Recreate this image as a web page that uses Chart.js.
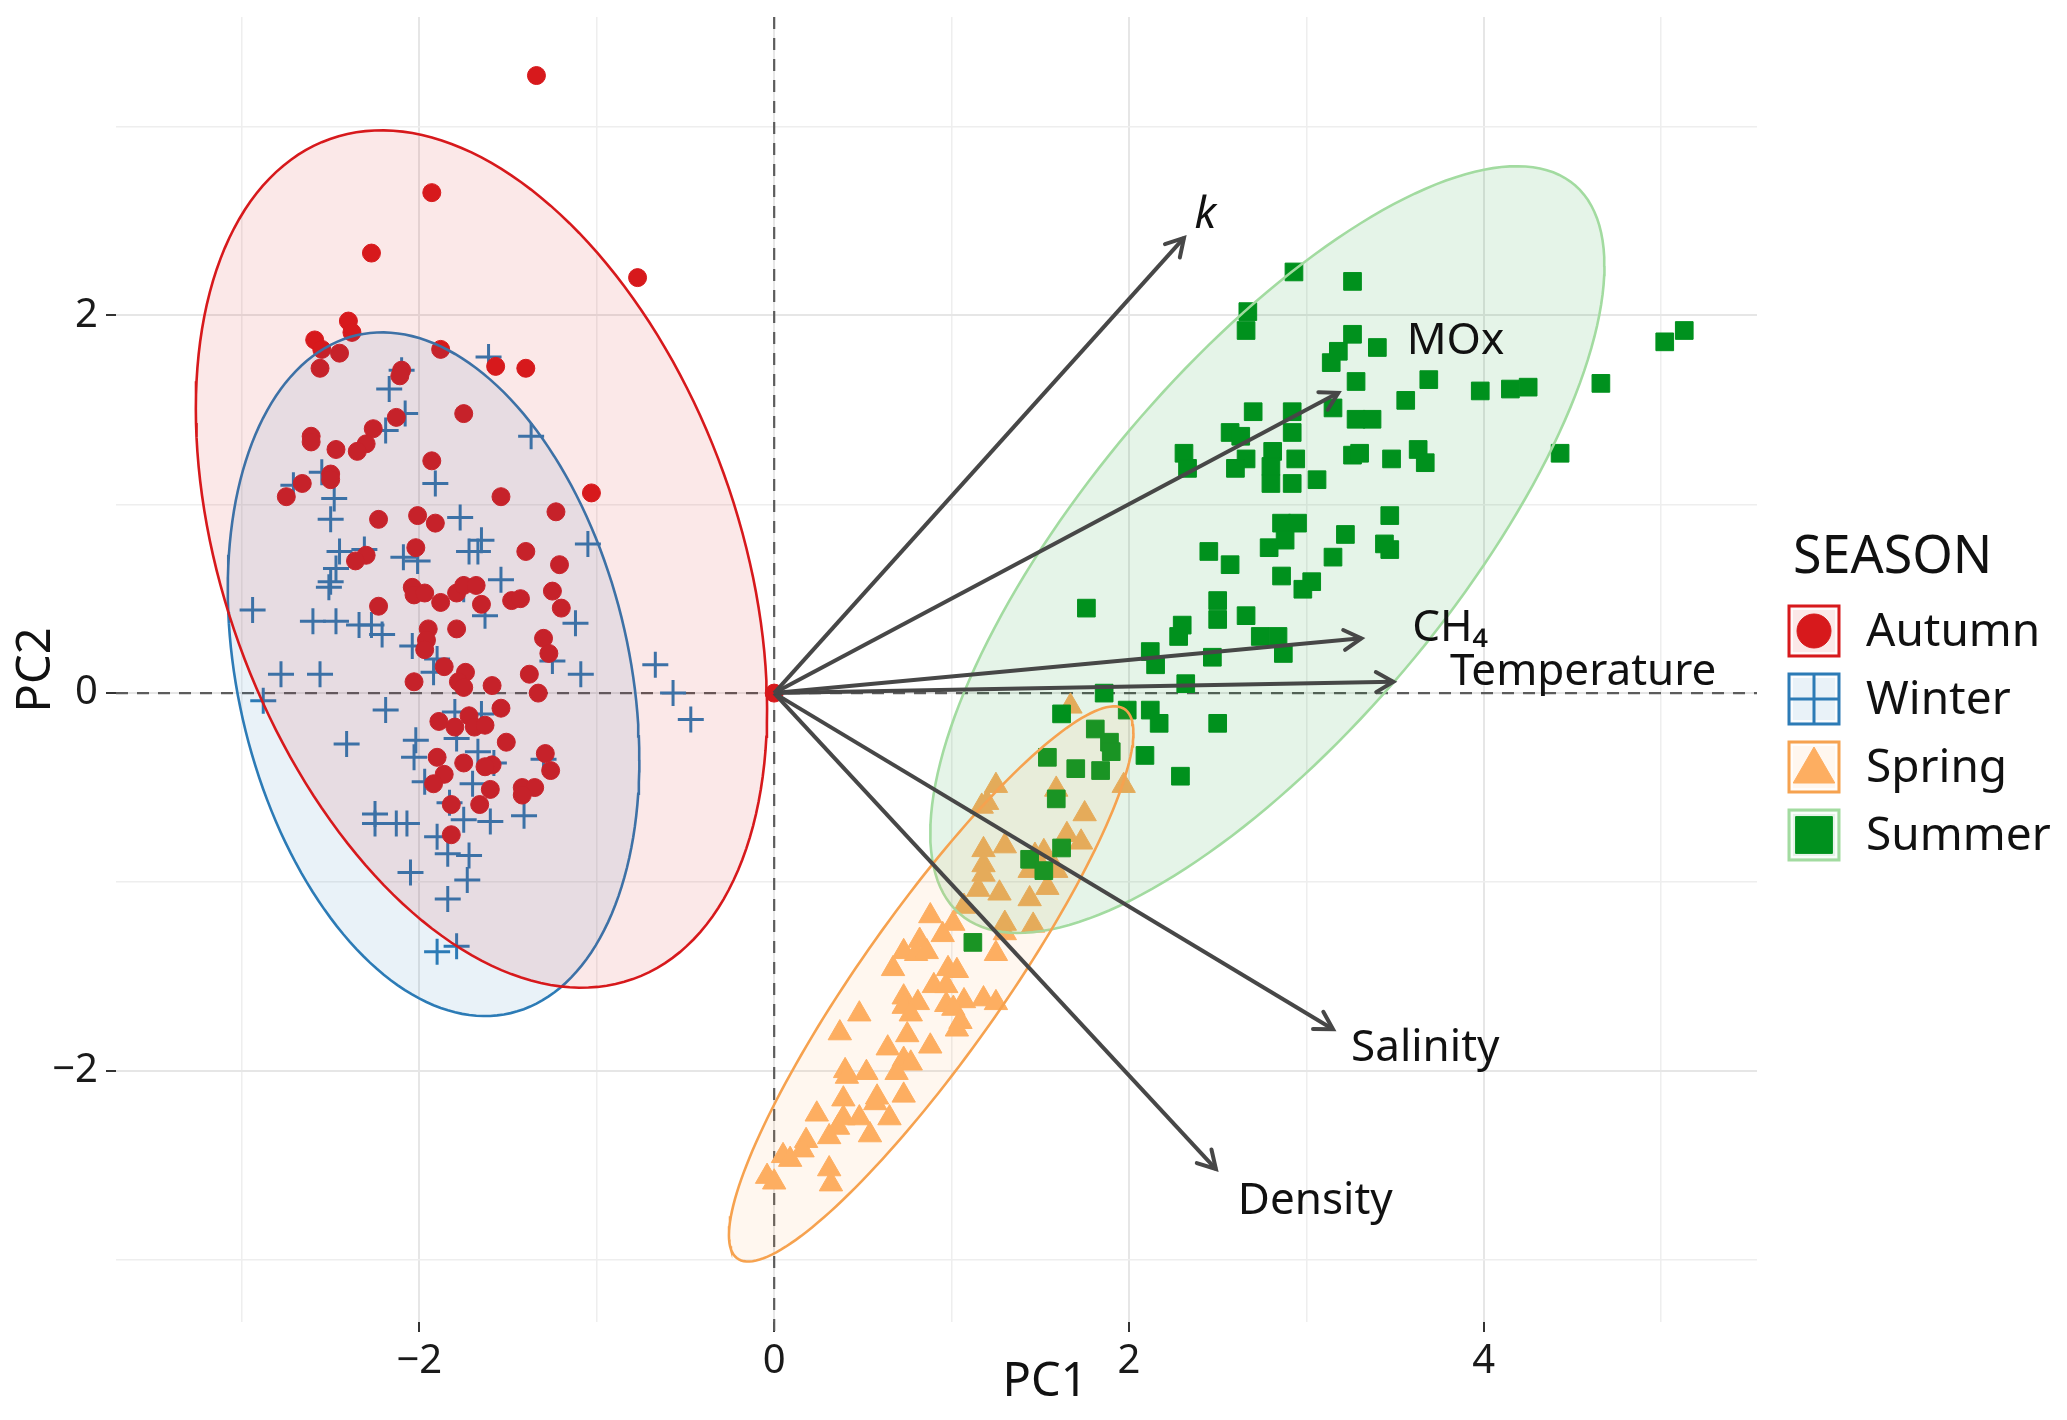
<!DOCTYPE html>
<html>
<head>
<meta charset="utf-8">
<script src="https://cdn.jsdelivr.net/npm/chart.js@4.4.1/dist/chart.umd.min.js"></script>
<style>
  html, body { margin: 0; padding: 0; background: #fff; }
  #wrap { width: 2067px; height: 1420px; position: relative; }
</style>
</head>
<body>
<div id="wrap"><canvas id="pca"></canvas></div>
<script>
// ---- data (PC1, PC2) ----
const seasons = ['Autumn', 'Winter', 'Spring', 'Summer'];

const autumnPts = [
  [-1.34,3.27],[-1.93,2.65],[-2.27,2.33],[-0.77,2.20],
  [-2.40,1.97],[-2.38,1.91],[-2.59,1.87],[-2.55,1.82],[-2.45,1.80],[-2.56,1.72],
  [-1.88,1.82],[-1.57,1.73],[-1.40,1.72],[-2.10,1.71],[-2.11,1.68],
  [-1.75,1.48],[-2.13,1.46],[-2.26,1.40],[-2.61,1.36],[-2.61,1.33],
  [-2.47,1.29],[-2.30,1.32],[-2.35,1.28],[-2.50,1.16],[-2.50,1.13],
  [-2.66,1.11],[-2.75,1.04],[-1.93,1.23],[-1.54,1.04],[-1.03,1.06],
  [-1.23,0.96],[-2.23,0.92],[-2.01,0.94],[-1.91,0.90],[-2.02,0.77],
  [-2.30,0.73],[-2.36,0.70],[-1.40,0.75],[-1.21,0.68],[-2.04,0.56],
  [-2.03,0.52],[-1.97,0.53],[-1.88,0.48],[-1.79,0.53],[-1.75,0.57],
  [-1.68,0.57],[-1.65,0.47],[-1.48,0.49],[-1.43,0.50],[-1.25,0.54],
  [-1.20,0.45],[-2.23,0.46],[-1.95,0.34],[-1.96,0.28],[-1.97,0.23],
  [-1.79,0.34],[-1.30,0.29],[-1.27,0.21],[-1.86,0.14],[-1.74,0.11],
  [-1.78,0.06],[-2.03,0.06],[-1.59,0.04],[-1.38,0.10],[-1.33,0.00],
  [-1.75,0.03],
  [-1.54,-0.08],[-1.89,-0.15],[-1.80,-0.18],[-1.72,-0.12],[-1.69,-0.18],
  [-1.63,-0.17],[-1.51,-0.26],[-1.29,-0.32],[-1.90,-0.34],[-1.75,-0.37],
  [-1.59,-0.38],[-1.63,-0.39],[-1.26,-0.41],[-1.86,-0.43],[-1.92,-0.48],
  [-1.60,-0.51],[-1.42,-0.50],[-1.35,-0.50],[-1.42,-0.54],[-1.82,-0.59],
  [-1.66,-0.59],[-1.82,-0.75]
];

const winterPts = [
  [-1.61,1.78],[-2.10,1.71],[-2.17,1.61],[-2.08,1.48],[-2.19,1.39],
  [-1.37,1.36],[-2.55,1.17],[-2.71,1.10],[-1.91,1.11],[-2.48,1.03],
  [-2.50,0.92],[-1.77,0.93],[-1.05,0.79],[-1.65,0.81],[-1.72,0.75],
  [-1.67,0.75],[-2.45,0.75],[-2.31,0.76],[-2.09,0.72],[-2.01,0.70],
  [-2.47,0.66],[-2.50,0.59],[-2.51,0.56],[-1.54,0.60],[-1.75,0.55],
  [-2.94,0.44],[-2.60,0.38],[-2.47,0.38],[-2.34,0.36],[-2.21,0.31],
  [-2.27,0.36],[-1.63,0.41],[-1.12,0.37],[-2.04,0.25],[-1.90,0.18],
  [-1.92,0.11],[-1.25,0.17],[-0.67,0.15],[-1.09,0.10],[-2.78,0.10],
  [-2.56,0.10],
  [-0.57,0.00],[-2.88,-0.04],[-0.47,-0.14],[-2.19,-0.09],[-2.41,-0.27],
  [-1.80,-0.10],[-1.65,-0.11],[-2.02,-0.25],[-2.03,-0.34],[-1.79,-0.24],
  [-1.67,-0.31],[-1.58,-0.37],[-1.30,-0.35],[-1.97,-0.47],[-1.70,-0.48],
  [-1.83,-0.58],[-2.25,-0.64],[-2.25,-0.69],[-2.13,-0.69],[-2.07,-0.69],
  [-1.75,-0.67],[-1.60,-0.68],[-1.41,-0.65],[-1.90,-0.76],[-1.84,-0.85],
  [-1.72,-0.86],[-2.05,-0.95],[-1.73,-0.99],[-1.84,-1.09],[-1.90,-1.37],
  [-1.79,-1.34]
];

const springPts = [
  [1.67,-0.07],[1.25,-0.49],[1.20,-0.58],[1.17,-0.60],[1.97,-0.49],
  [1.59,-0.51],[1.75,-0.64],[1.65,-0.75],[1.73,-0.79],[1.18,-0.83],
  [1.30,-0.81],[1.52,-0.84],[1.47,-0.86],[1.18,-0.91],[1.18,-0.96],
  [1.44,-0.94],[1.59,-0.94],[1.15,-1.04],[1.27,-1.06],[1.44,-1.09],
  [1.54,-1.03],[1.07,-1.13],[0.88,-1.18],[1.01,-1.22],[0.95,-1.28],
  [1.30,-1.22],[1.46,-1.23],[1.30,-1.27],[0.82,-1.31],[0.73,-1.37],
  [1.25,-1.38],[0.80,-1.38],[0.86,-1.37],
  [0.67,-1.46],[0.98,-1.46],[1.03,-1.47],[0.90,-1.55],[0.97,-1.55],
  [0.73,-1.61],[0.81,-1.64],[0.73,-1.66],[0.97,-1.65],[1.07,-1.63],
  [1.18,-1.62],[1.25,-1.64],[1.01,-1.67],[0.77,-1.70],[0.48,-1.70],
  [0.37,-1.80],[1.05,-1.74],[1.03,-1.78],[0.75,-1.81],[0.64,-1.88],
  [0.88,-1.87],[0.73,-1.94],[0.77,-1.96],[0.69,-2.01],[0.40,-2.00],
  [0.41,-2.03],[0.52,-2.01],[0.58,-2.14],[0.73,-2.13],[0.39,-2.15],
  [0.57,-2.17],[0.24,-2.23],[0.39,-2.25],[0.48,-2.25],[0.65,-2.25],
  [0.36,-2.30],[0.31,-2.35],[0.54,-2.34],[0.18,-2.37],[0.16,-2.42],
  [0.05,-2.45],[0.09,-2.47],[0.31,-2.52],[0.32,-2.60],[-0.04,-2.56],
  [0.00,-2.59]
];

const summerPts = [
  [2.93,2.23],[3.26,2.18],[2.67,2.02],[2.66,1.92],[3.26,1.90],
  [3.18,1.81],[3.14,1.75],[3.40,1.83],[3.28,1.65],[3.69,1.66],
  [3.15,1.51],[3.56,1.55],[3.98,1.60],[4.15,1.61],[4.25,1.62],
  [4.66,1.64],[5.02,1.86],[5.13,1.92],[4.43,1.27],[2.70,1.49],
  [2.92,1.49],[2.92,1.38],[2.57,1.38],[2.63,1.36],[3.28,1.45],
  [3.37,1.45],[2.31,1.27],[2.33,1.19],[2.81,1.28],[2.66,1.24],
  [2.60,1.19],[2.94,1.24],[2.80,1.20],[2.80,1.11],[2.92,1.11],
  [3.06,1.13],[3.26,1.26],[3.30,1.27],[3.48,1.24],[3.63,1.29],
  [3.67,1.22],[3.47,0.94],[3.47,0.76],[3.44,0.79],[2.86,0.90],
  [2.95,0.90],[2.88,0.81],[2.79,0.77],[3.22,0.84],[2.45,0.75],
  [2.57,0.68],[3.15,0.72],[2.86,0.62],[3.03,0.59],[2.98,0.55],
  [1.76,0.45],[2.50,0.49],[2.50,0.39],[2.66,0.41],[2.30,0.36],
  [2.28,0.30],[2.74,0.30],[2.84,0.30],[2.12,0.22],[2.87,0.21],
  [2.47,0.19],
  [2.15,0.15],[2.32,0.05],[1.86,0.00],[1.62,-0.11],[1.99,-0.09],
  [2.12,-0.09],[2.17,-0.16],[2.50,-0.16],[1.81,-0.19],[1.89,-0.26],
  [1.90,-0.31],[1.54,-0.34],[1.70,-0.40],[1.84,-0.41],[2.09,-0.33],
  [2.29,-0.44],[1.59,-0.56],[1.62,-0.82],[1.44,-0.88],[1.52,-0.94],
  [1.12,-1.32]
];

// confidence ellipses: centre, half extent along PC1 / PC2, correlation
const ellCx = [-1.65, -1.92, 0.885, 2.78];
const ellCy = [0.71, 0.10, -1.54, 0.76];
const ellSx = [1.61, 1.16, 1.14, 1.90];
const ellSy = [2.27, 1.81, 1.47, 2.03];
const ellR  = [-0.35, -0.25, 0.905, 0.74];

// variable loadings (arrow tips) and their label anchors
const loadingNames = ['k', 'MOx', 'CH\u2084', 'Temperature', 'Salinity', 'Density'];
const loadingX = [2.31, 3.18, 3.31, 3.49, 3.15, 2.49];
const loadingY = [2.41, 1.59, 0.29, 0.06, -1.78, -2.52];
const labelX = [2.43, 3.84, 3.81, 4.56, 3.67, 3.05];
const labelY = [2.53, 1.86, 0.34, 0.11, -1.88, -2.69];

const xMin = -3.71, xMax = 5.54;
const yMin = -3.33, yMax = 3.58;

// ---- styling ----
const FONT = "'Noto Sans', 'Open Sans', sans-serif";
const pointColor = ['#d7191c', '#2c7bb6', '#fdae61', '#00911e'];
const ellipseLine = ['#d7191c', '#2c7bb6', '#f6a24f', '#a2dba0'];
const ellipseFill = ['rgba(215,25,28,0.1)', 'rgba(44,123,182,0.1)', 'rgba(253,174,97,0.1)', 'rgba(0,145,30,0.1)'];
const markerStyle = ['circle', 'cross', 'triangle', 'rect'];
const markerSize = [9, 13, 13.5, 12.5];
const layerOrder = [5, 6, 4, 3];   // lower = drawn on top
const arrowColor = '#474747';

const toXY = pts => pts.map(([x, y]) => ({ x, y }));

function ellipseOutline(i) {
  const out = [];
  const k = Math.sqrt(1 - ellR[i] * ellR[i]);
  for (let s = 0; s <= 180; s++) {
    const t = s / 180 * 2 * Math.PI;
    out.push({
      x: ellCx[i] + ellSx[i] * Math.cos(t),
      y: ellCy[i] + ellSy[i] * (ellR[i] * Math.cos(t) + k * Math.sin(t))
    });
  }
  return out;
}

const pointSets = [autumnPts, winterPts, springPts, summerPts];
const datasets = [];

seasons.forEach((name, i) => {
  datasets.push({
    label: name,
    data: toXY(pointSets[i]),
    pointStyle: markerStyle[i],
    pointRadius: markerSize[i],
    pointBackgroundColor: pointColor[i],
    pointBorderColor: pointColor[i],
    pointBorderWidth: i === 1 ? 3 : 1,
    showLine: false,
    order: layerOrder[i]
  });
});

seasons.forEach((name, i) => {
  datasets.push({
    label: name + ' ellipse',
    data: ellipseOutline(i),
    showLine: true,
    fill: 'shape',
    tension: 0,
    borderColor: ellipseLine[i],
    backgroundColor: ellipseFill[i],
    borderWidth: 2.6,
    pointRadius: 0,
    order: 2
  });
});

datasets.push({
  label: 'origin',
  data: [{ x: 0, y: 0 }],
  pointRadius: 9,
  pointBackgroundColor: pointColor[0],
  pointBorderColor: pointColor[0],
  order: 1
});

loadingNames.forEach((name, i) => {
  datasets.push({
    label: name,
    data: [{ x: 0, y: 0 }, { x: loadingX[i], y: loadingY[i] }],
    showLine: true,
    borderColor: arrowColor,
    borderWidth: 4,
    pointRadius: 0,
    order: 0
  });
});

const isEven = v => Math.abs(Math.round(v) % 2) === 0;
const tickText = v => !isEven(v) ? '' : (v < 0 ? '\u2212' + Math.abs(v) : String(v));

const gridOpts = {
  color: c => (c.tick && isEven(c.tick.value)) ? '#e6e6e6' : '#eeeeee',
  lineWidth: c => (c.tick && isEven(c.tick.value)) ? 2 : 1.5,
  tickLength: 10,
  tickWidth: 2,
  tickColor: c => (c.tick && isEven(c.tick.value)) ? '#333333' : 'rgba(0,0,0,0)'
};

const overlay = {
  id: 'overlay',
  beforeDatasetsDraw(chart) {
    const { ctx, chartArea: a, scales: { x, y } } = chart;
    const x0 = x.getPixelForValue(0), y0 = y.getPixelForValue(0);
    ctx.save();
    ctx.strokeStyle = '#5c5c5c';
    ctx.lineWidth = 2.2;
    ctx.setLineDash([12, 9]);
    ctx.beginPath();
    ctx.moveTo(x0, a.top); ctx.lineTo(x0, a.bottom + 10);
    ctx.moveTo(a.left, y0); ctx.lineTo(a.right, y0);
    ctx.stroke();
    ctx.restore();
  },
  afterDatasetsDraw(chart) {
    const { ctx, scales: { x, y } } = chart;
    const ox = x.getPixelForValue(0), oy = y.getPixelForValue(0);
    ctx.save();
    ctx.strokeStyle = arrowColor;
    ctx.lineWidth = 4;
    ctx.lineCap = 'round';
    loadingNames.forEach((name, i) => {
      const tx = x.getPixelForValue(loadingX[i]), ty = y.getPixelForValue(loadingY[i]);
      const ang = Math.atan2(ty - oy, tx - ox);
      const L = 20;
      ctx.beginPath();
      ctx.moveTo(tx - L * Math.cos(ang - Math.PI / 6), ty - L * Math.sin(ang - Math.PI / 6));
      ctx.lineTo(tx, ty);
      ctx.lineTo(tx - L * Math.cos(ang + Math.PI / 6), ty - L * Math.sin(ang + Math.PI / 6));
      ctx.stroke();
    });
    ctx.fillStyle = '#111';
    ctx.textAlign = 'center';
    ctx.textBaseline = 'middle';
    loadingNames.forEach((name, i) => {
      ctx.font = (name === 'k' ? 'italic ' : '') + '44px ' + FONT;
      ctx.fillText(name, x.getPixelForValue(labelX[i]), y.getPixelForValue(labelY[i]));
    });
    ctx.restore();
  },
  afterDraw(chart) {
    const { ctx } = chart;
    ctx.save();
    ctx.fillStyle = '#111';
    ctx.textBaseline = 'middle';
    // axis titles
    ctx.textAlign = 'center';
    ctx.font = '47px ' + FONT;
    ctx.fillText('PC1', 1045, 1383);
    ctx.save();
    ctx.translate(37, 670);
    ctx.rotate(-Math.PI / 2);
    ctx.fillText('PC2', 0, 0);
    ctx.restore();

    // legend
    ctx.textAlign = 'left';
    ctx.font = '52px ' + FONT;
    ctx.fillText('SEASON', 1793, 558);
    const boxX = 1789, box = 50, top0 = 606, step = 68;
    seasons.forEach((name, i) => {
      const by = top0 + i * step;
      const cx = boxX + box / 2, cy = by + box / 2;
      ctx.fillStyle = '#ffffff';
      ctx.fillRect(boxX, by, box, box);
      ctx.fillStyle = ellipseFill[i];
      ctx.fillRect(boxX, by, box, box);
      ctx.strokeStyle = ellipseLine[i];
      ctx.lineWidth = 3;
      ctx.strokeRect(boxX, by, box, box);
      ctx.strokeStyle = '#ffffff';
      ctx.lineWidth = 1.5;
      ctx.strokeRect(boxX + 3, by + 3, box - 6, box - 6);
      ctx.fillStyle = pointColor[i];
      ctx.strokeStyle = pointColor[i];
      const legendRadius = [17, 25, 24, 26][i];
      ctx.lineWidth = i === 1 ? 3 : 1;
      Chart.helpers.drawPoint(ctx, { pointStyle: markerStyle[i], radius: legendRadius, borderWidth: i === 1 ? 3 : 1, rotation: 0 }, cx, cy + (i === 2 ? 4 : 0));
      ctx.fillStyle = '#111';
      ctx.font = '46px ' + FONT;
      ctx.fillText(name, 1866, cy + 2);
    });
    ctx.restore();
  }
};

new Chart(document.getElementById('pca'), {
  type: 'scatter',
  data: { datasets },
  options: {
    responsive: true,
    maintainAspectRatio: false,
    animation: false,
    events: [],
    layout: { padding: { top: 17, right: 310, left: 0, bottom: 0 } },
    plugins: { legend: { display: false }, tooltip: { enabled: false } },
    scales: {
      x: {
        type: 'linear', min: xMin, max: xMax,
        afterFit: s => { s.height = 98; },
        border: { display: false },
        grid: gridOpts,
        ticks: {
          stepSize: 1, includeBounds: false, autoSkip: false,
          maxRotation: 0, minRotation: 0, padding: 6,
          color: '#1a1a1a', font: { family: FONT, size: 40 },
          callback: v => tickText(v)
        }
      },
      y: {
        type: 'linear', min: yMin, max: yMax,
        afterFit: s => { s.width = 116; s.paddingTop = 0; s.paddingBottom = 0; },
        border: { display: false },
        grid: gridOpts,
        ticks: {
          stepSize: 1, includeBounds: false, autoSkip: false, padding: 8,
          color: '#1a1a1a', font: { family: FONT, size: 40 },
          callback: v => tickText(v)
        }
      }
    }
  },
  plugins: [overlay]
});
</script>
</body>
</html>
